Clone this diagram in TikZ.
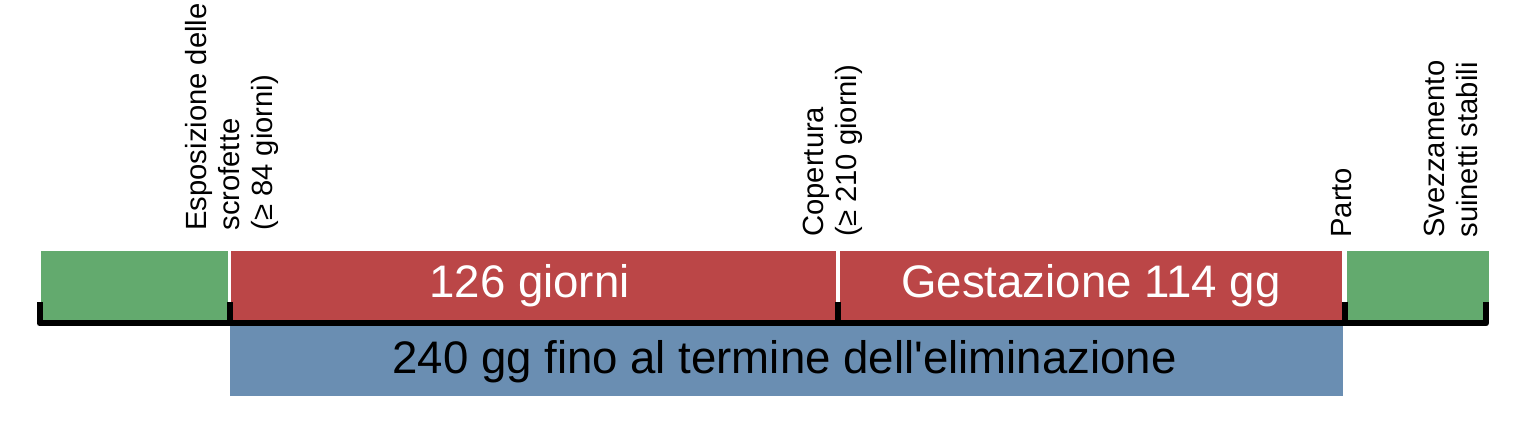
\documentclass[tikz,border=0pt]{standalone}
\usepackage{fontspec}
\setmainfont{Liberation Sans}
\definecolor{barGreen}{RGB}{99,170,110}
\definecolor{barRed}{RGB}{187,70,71}
\definecolor{barBlue}{RGB}{106,142,178}
\begin{document}
\begin{tikzpicture}[x=0.5pt,y=-0.5pt,
  bigtxt/.style={font=\fontsize{22.8}{26}\selectfont, inner sep=0pt},
  labeltxt/.style={font=\fontsize{14.6}{16.5}\selectfont, rotate=90, anchor=west, align=left, inner sep=0pt},
  axisline/.style={line width=3pt, line join=round, line cap=butt, black}]
\useasboundingbox (0,0) rectangle (1523,422);
% bars
\fill[barGreen] (41,251) rectangle (228,321);
\fill[barRed] (231,251) rectangle (836,321);
\fill[barRed] (840,251) rectangle (1342,321);
\fill[barGreen] (1347,251) rectangle (1489,321);
\fill[barBlue] (230,326) rectangle (1343,396);
% bar texts
\node[bigtxt, text=white] (t126) at (529.5,285.5) {126 giorni};
\node[bigtxt, text=white] (tgest) at (1091,285.5) {Gestazione 114 gg};
\node[bigtxt, text=black] (t240) at (784.5,361.5) {240 gg fino al termine dell\textquotesingle eliminazione};
% axis
\coordinate (a0) at (39.5,302);
\coordinate (a1) at (229.5,302);
\coordinate (a2) at (837.5,302);
\coordinate (a3) at (1344.5,302);
\coordinate (a4) at (1486,302);
\draw[axisline] (a0) -- ++(0,21.5) -| (a4);
\foreach \c in {a1,a2,a3}{
  \draw[axisline] (\c) -- ++(0,21.5);
}
% labels
\node[labeltxt] (lesp) at (232,231) {Esposizione delle\\scrofette\\(≥ 84 giorni)};
\node[labeltxt] (lcop) at (832.5,237) {Copertura\\(≥ 210 giorni)};
\node[labeltxt] (lpar) at (1341.5,238) {Parto};
\node[labeltxt] (lsve) at (1451,238) {Svezzamento\\suinetti stabili};
\end{tikzpicture}
\end{document}
